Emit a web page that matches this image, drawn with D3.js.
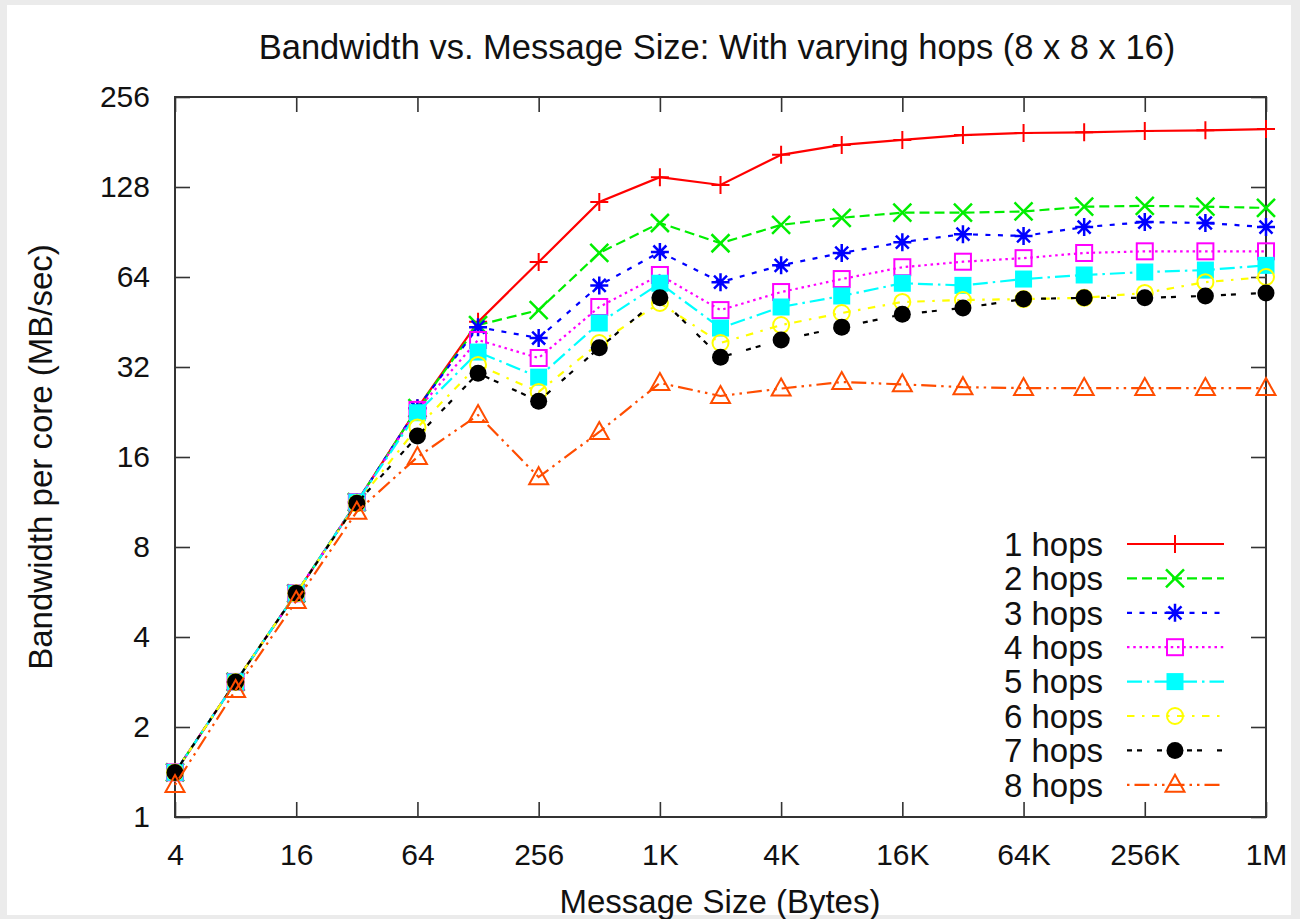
<!DOCTYPE html>
<html>
<head>
<meta charset="utf-8">
<script src="https://cdn.jsdelivr.net/npm/d3@7"></script>
<style>
html,body{margin:0;padding:0;background:#fff;}
svg{display:block;}
text{font-family:"Liberation Sans",Arial,Helvetica,sans-serif;fill:#111;}
</style>
</head>
<body>
<script>
// ---- data ----
const messageSizes = [4, 8, 16, 32, 64, 128, 256, 512, 1024, 2048, 4096, 8192, 16384, 32768, 65536, 131072, 262144, 524288, 1048576];
const hops1 = [1.41, 2.83, 5.6, 11.3, 23.3, 45.3, 71.8, 114, 138, 130, 164, 177, 184, 191, 194, 195, 197, 198, 200];
const hops2 = [1.41, 2.83, 5.6, 11.3, 23.3, 44.2, 49.6, 77, 97, 83, 95.6, 101, 105, 105, 106, 110, 110.7, 110, 109];
const hops3 = [1.41, 2.83, 5.6, 11.3, 23.3, 43.5, 40, 60, 77.6, 61.5, 70, 77, 83.7, 89, 87.8, 94, 97.7, 97, 94];
const hops4 = [1.41, 2.83, 5.6, 11.3, 23.0, 39.4, 34.3, 50.8, 65, 49.6, 57, 63, 69, 72, 74, 77, 78, 78, 78];
const hops5 = [1.41, 2.83, 5.6, 11.3, 22.5, 35.9, 29.6, 44.9, 61, 43.2, 50.8, 55.3, 61, 60, 63, 65, 66.5, 67.5, 70];
const hops6 = [1.41, 2.83, 5.6, 11.2, 20.1, 32.5, 26.4, 38.5, 52.4, 38.5, 44.2, 48.5, 52.8, 53.6, 54, 54.5, 56.6, 61.5, 64];
const hops7 = [1.41, 2.83, 5.6, 11.2, 18.8, 30.5, 24.6, 37.1, 54.5, 34.5, 39.4, 43.5, 48, 50.4, 54, 54.5, 54.5, 55.3, 56.6];
const hops8 = [1.28, 2.66, 5.28, 10.5, 16, 22.1, 13.7, 19.4, 28.3, 25.6, 27.1, 28.5, 28, 27.4, 27.2, 27.2, 27.2, 27.2, 27.2];
const seriesNames = ["1 hops", "2 hops", "3 hops", "4 hops", "5 hops", "6 hops", "7 hops", "8 hops"];
const xTickValues = [4, 16, 64, 256, 1024, 4096, 16384, 65536, 262144, 1048576];
const xTickLabels = ["4", "16", "64", "256", "1K", "4K", "16K", "64K", "256K", "1M"];
const yTickValues = [1, 2, 4, 8, 16, 32, 64, 128, 256];
const yTickLabels = ["1", "2", "4", "8", "16", "32", "64", "128", "256"];
const titleText = "Bandwidth vs. Message Size: With varying hops (8 x 8 x 16)";
const xLabelText = "Message Size (Bytes)";
const yLabelText = "Bandwidth per core (MB/sec)";

// ---- styles ----
const allSeries = [hops1, hops2, hops3, hops4, hops5, hops6, hops7, hops8];
const colors = ["#ff0000", "#00ee00", "#0000ff", "#ff00ff", "#00ffff", "#ffff00", "#000000", "#ff4d00"];
const dl = 2.5;
const dashes = [null, [4,2], [2,3], [1,1.5], [6,2,1,2], [3,3,1,3], [2,2,2,6], [1,2,6,2,1,2]]
  .map(d => d ? d.map(v => v * dl).join(",") : null);
const markers = ["plus", "cross", "star", "box", "boxF", "circle", "circleF", "tri"];

const W = 1300, H = 919;
const svg = d3.select("body").append("svg").attr("width", W).attr("height", H);
svg.append("rect").attr("width", W).attr("height", H).attr("fill", "#ebebeb");
svg.append("rect").attr("x", 7).attr("y", 5).attr("width", 1284).attr("height", 910).attr("fill", "#fff");

const L = 175, R = 1266, T = 97, B = 817;
const x = d3.scaleLog().base(2).domain([4, 1048576]).range([L, R]);
const y = d3.scaleLog().base(2).domain([1, 256]).range([B, T]);

const tickLen = 15;
const axisColor = "#333";
function styleAxis(g) {
  g.select(".domain").remove();
  g.selectAll(".tick line").attr("stroke", axisColor).attr("stroke-width", 1.6);
  g.selectAll(".tick text").attr("fill", "#111").style("font-size", "30px")
    .style("font-family", '"Liberation Sans",Arial,sans-serif');
}
// bottom
svg.append("g").attr("transform", `translate(0,${B})`)
  .call(d3.axisBottom(x).tickValues(xTickValues).tickSizeInner(-tickLen).tickSizeOuter(0)
    .tickPadding(27).tickFormat((d, i) => xTickLabels[i]))
  .call(styleAxis)
  .call(g => g.selectAll(".tick text").attr("dy", "0.71em"));
// top
svg.append("g").attr("transform", `translate(0,${T})`)
  .call(d3.axisTop(x).tickValues(xTickValues).tickSizeInner(-tickLen).tickSizeOuter(0).tickFormat(""))
  .call(styleAxis);
// left
svg.append("g").attr("transform", `translate(${L},0)`)
  .call(d3.axisLeft(y).tickValues(yTickValues).tickSizeInner(-tickLen).tickSizeOuter(0)
    .tickPadding(25).tickFormat((d, i) => yTickLabels[i]))
  .call(styleAxis);
// right
svg.append("g").attr("transform", `translate(${R},0)`)
  .call(d3.axisRight(y).tickValues(yTickValues).tickSizeInner(-tickLen).tickSizeOuter(0).tickFormat(""))
  .call(styleAxis);

// frame
svg.append("rect").attr("x", L).attr("y", T).attr("width", R - L).attr("height", B - T)
  .attr("fill", "none").attr("stroke", axisColor).attr("stroke-width", 2);

// marker drawer
function drawMarker(g, type, cx, cy, color) {
  const s = 9;
  const sw = 2;
  switch (type) {
    case "plus":
      g.append("path").attr("d", `M${cx - s},${cy}H${cx + s}M${cx},${cy - s}V${cy + s}`)
        .attr("stroke", color).attr("stroke-width", sw).attr("fill", "none"); break;
    case "cross":
      g.append("path").attr("d", `M${cx - s},${cy - s}L${cx + s},${cy + s}M${cx - s},${cy + s}L${cx + s},${cy - s}`)
        .attr("stroke", color).attr("stroke-width", sw + 0.5).attr("fill", "none"); break;
    case "star":
      g.append("path").attr("d", `M${cx - s},${cy}H${cx + s}M${cx},${cy - s}V${cy + s}M${cx - s * 0.72},${cy - s * 0.72}L${cx + s * 0.72},${cy + s * 0.72}M${cx - s * 0.72},${cy + s * 0.72}L${cx + s * 0.72},${cy - s * 0.72}`)
        .attr("stroke", color).attr("stroke-width", sw + 0.5).attr("fill", "none"); break;
    case "box":
      g.append("rect").attr("x", cx - 8).attr("y", cy - 8).attr("width", 16).attr("height", 16)
        .attr("stroke", color).attr("stroke-width", sw).attr("fill", "none"); break;
    case "boxF":
      g.append("rect").attr("x", cx - 8.5).attr("y", cy - 8.5).attr("width", 17).attr("height", 17)
        .attr("fill", color); break;
    case "circle":
      g.append("circle").attr("cx", cx).attr("cy", cy).attr("r", 8)
        .attr("stroke", color).attr("stroke-width", sw).attr("fill", "none"); break;
    case "circleF":
      g.append("circle").attr("cx", cx).attr("cy", cy).attr("r", 8.5).attr("fill", color); break;
    case "tri":
      g.append("path").attr("d", `M${cx},${cy - 10}L${cx + 9.5},${cy + 7}L${cx - 9.5},${cy + 7}Z`)
        .attr("stroke", color).attr("stroke-width", sw).attr("fill", "none"); break;
  }
}

const line = d3.line().x(d => x(d[0])).y(d => y(d[1]));
const plot = svg.append("g");
allSeries.forEach((vals, si) => {
  const pts = messageSizes.map((m, i) => [m, vals[i]]);
  const g = plot.append("g");
  g.append("path").attr("d", line(pts)).attr("fill", "none")
    .attr("stroke", colors[si]).attr("stroke-width", 2.2)
    .attr("stroke-dasharray", dashes[si]);
  pts.forEach(p => drawMarker(g, markers[si], x(p[0]), y(p[1]), colors[si]));
});

// legend
const legX0 = 1127, legX1 = 1224, legM = 1175, legTextX = 1103;
seriesNames.forEach((name, si) => {
  const ly = 544 + si * 34.4;
  const g = svg.append("g");
  g.append("text").attr("x", legTextX).attr("y", ly).attr("dy", "0.36em")
    .attr("text-anchor", "end").style("font-size", "33px").text(name);
  g.append("line").attr("x1", legX0).attr("x2", legX1).attr("y1", ly).attr("y2", ly)
    .attr("stroke", colors[si]).attr("stroke-width", 2.2).attr("stroke-dasharray", dashes[si]);
  drawMarker(g, markers[si], legM, ly, colors[si]);
});

// titles
svg.append("text").attr("x", 717).attr("y", 59).attr("text-anchor", "middle")
  .style("font-size", "34.5px").text(titleText);
svg.append("text").attr("x", 720).attr("y", 913).attr("text-anchor", "middle")
  .style("font-size", "33px").text(xLabelText);
svg.append("text").attr("transform", `translate(52,${(T + B) / 2}) rotate(-90)`)
  .attr("text-anchor", "middle").style("font-size", "33px").text(yLabelText);
</script>
</body>
</html>
